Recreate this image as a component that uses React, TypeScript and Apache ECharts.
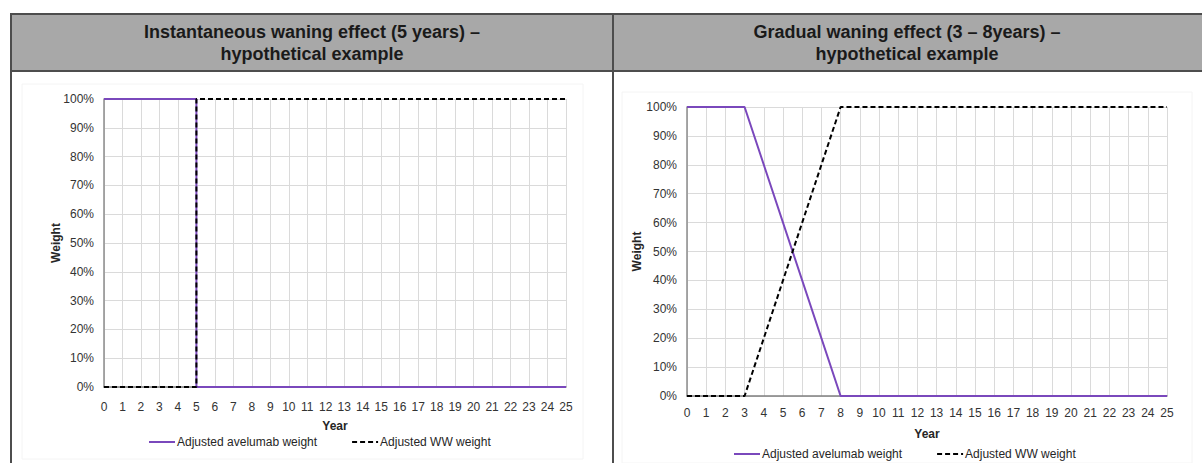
import React, { useEffect, useRef } from "react";
import * as echarts from "echarts";

const titlesLeft = ["Instantaneous waning effect (5 years) –", "hypothetical example"];
const titlesRight = ["Gradual waning effect (3 – 8years) –", "hypothetical example"];
const seriesNames = ["Adjusted avelumab weight", "Adjusted WW weight"];

const instAvelumabYears = [0, 5, 5, 25];
const instAvelumabWeight = [1, 1, 0, 0];
const instWWYears = [0, 5, 5, 25];
const instWWWeight = [0, 0, 1, 1];

const gradYears = [0, 3, 8, 25];
const gradAvelumabWeight = [1, 1, 0, 0];
const gradWWWeight = [0, 0, 1, 1];

const PURPLE = "#7A48BC";
const FONT = "Liberation Sans, Arial, sans-serif";

const pairs = (xs: number[], ys: number[]) => xs.map((x, i) => [x, ys[i]]);

export default function App() {
  const ref = useRef<HTMLDivElement>(null);
  useEffect(() => {
    if (!ref.current) return;
    const chart = echarts.init(ref.current, null, { renderer: "svg" });
    const xAxisBase = (gridIndex: number, margin: number, nameGap: number) => ({
      type: "value" as const,
      gridIndex,
      min: 0,
      max: 25,
      interval: 1,
      name: "Year",
      nameLocation: "middle" as const,
      nameGap,
      nameMoveOverlap: false,
      nameTextStyle: { fontFamily: FONT, fontSize: 12, fontWeight: "bold", color: "#262626" },
      axisLine: { show: true, lineStyle: { color: "#7F7F7F", width: 1.5 } },
      axisTick: { show: false },
      axisLabel: { fontFamily: FONT, fontSize: 12, color: "#333333", margin },
      splitLine: { show: true, lineStyle: { color: "#DADADA", width: 1 } },
    });
    const yAxisBase = (gridIndex: number, nameGap: number) => ({
      type: "value" as const,
      gridIndex,
      min: 0,
      max: 1,
      interval: 0.1,
      name: "Weight",
      nameLocation: "middle" as const,
      nameGap,
      nameMoveOverlap: false,
      nameTextStyle: { fontFamily: FONT, fontSize: 12, fontWeight: "bold", color: "#262626" },
      axisLine: { show: true, lineStyle: { color: "#8C8C8C", width: 1.5 } },
      axisTick: { show: false },
      axisLabel: {
        fontFamily: FONT,
        fontSize: 12,
        color: "#333333",
        margin: 10,
        formatter: (v: number) => Math.round(v * 100) + "%",
      },
      splitLine: { show: true, lineStyle: { color: "#DADADA", width: 1 } },
    });
    const lineSeries = (name: string, xi: number, data: number[][], dashed: boolean) => ({
      type: "line" as const,
      name,
      xAxisIndex: xi,
      yAxisIndex: xi,
      data,
      symbol: "none",
      z: dashed ? 3 : 2,
      lineStyle: dashed
        ? { color: "#000000", width: 2, type: [5, 3] }
        : { color: PURPLE, width: 2 },
      itemStyle: { color: dashed ? "#000000" : PURPLE },
    });
    const titleText = (lines: string[], cx: number) => ({
      type: "text",
      x: cx,
      y: 43,
      style: {
        text: lines.join("\n"),
        fontFamily: FONT,
        fontSize: 18,
        fontWeight: "bold",
        fill: "#1A1A1A",
        align: "center",
        verticalAlign: "middle",
        lineHeight: 22,
      },
      z: 10,
    });
    const legendBase = (left: number, top: number) => ({
      data: seriesNames,
      left,
      top,
      itemWidth: 26,
      itemHeight: 10,
      itemGap: 34,
      itemStyle: { opacity: 0 },
      textStyle: { fontFamily: FONT, fontSize: 12, color: "#262626", padding: [0, 0, 0, -3] },
      selectedMode: false,
    });
    chart.setOption({
      animation: false,
      backgroundColor: "#FFFFFF",
      graphic: [
        { type: "rect", shape: { x: 10, y: 14, width: 1192, height: 57 }, style: { fill: "#A8A8A8" }, z: 1 },
        { type: "line", shape: { x1: 10, y1: 14, x2: 1202, y2: 14 }, style: { stroke: "#4D4D4D", lineWidth: 2 }, z: 2 },
        { type: "line", shape: { x1: 10, y1: 71, x2: 1202, y2: 71 }, style: { stroke: "#4D4D4D", lineWidth: 2 }, z: 2 },
        { type: "line", shape: { x1: 11, y1: 13, x2: 11, y2: 463 }, style: { stroke: "#4D4D4D", lineWidth: 2 }, z: 2 },
        { type: "line", shape: { x1: 613, y1: 13, x2: 613, y2: 463 }, style: { stroke: "#4D4D4D", lineWidth: 2 }, z: 2 },
        { type: "rect", shape: { x: 22, y: 84, width: 561, height: 375 }, style: { fill: "none", stroke: "#F4F4F4", lineWidth: 1 }, z: 0 },
        { type: "rect", shape: { x: 622, y: 92, width: 570, height: 371 }, style: { fill: "none", stroke: "#F4F4F4", lineWidth: 1 }, z: 0 },
        titleText(titlesLeft, 312),
        titleText(titlesRight, 907),
      ],
      grid: [
        { left: 104, top: 99, width: 462, height: 288 },
        { left: 687, top: 107, width: 480, height: 289 },
      ],
      xAxis: [xAxisBase(0, 14, 33), xAxisBase(1, 11, 32)],
      yAxis: [yAxisBase(0, 42), yAxisBase(1, 44)],
      legend: [legendBase(143, 431), legendBase(728, 443)],
      series: [
        lineSeries(seriesNames[0], 0, pairs(instAvelumabYears, instAvelumabWeight), false),
        lineSeries(seriesNames[1], 0, pairs(instWWYears, instWWWeight), true),
        lineSeries(seriesNames[0], 1, pairs(gradYears, gradAvelumabWeight), false),
        lineSeries(seriesNames[1], 1, pairs(gradYears, gradWWWeight), true),
      ],
    });
    return () => chart.dispose();
  }, []);
  return (
    <div
      ref={ref}
      style={{ position: "absolute", left: 0, top: 0, width: 1202, height: 463 }}
    />
  );
}
